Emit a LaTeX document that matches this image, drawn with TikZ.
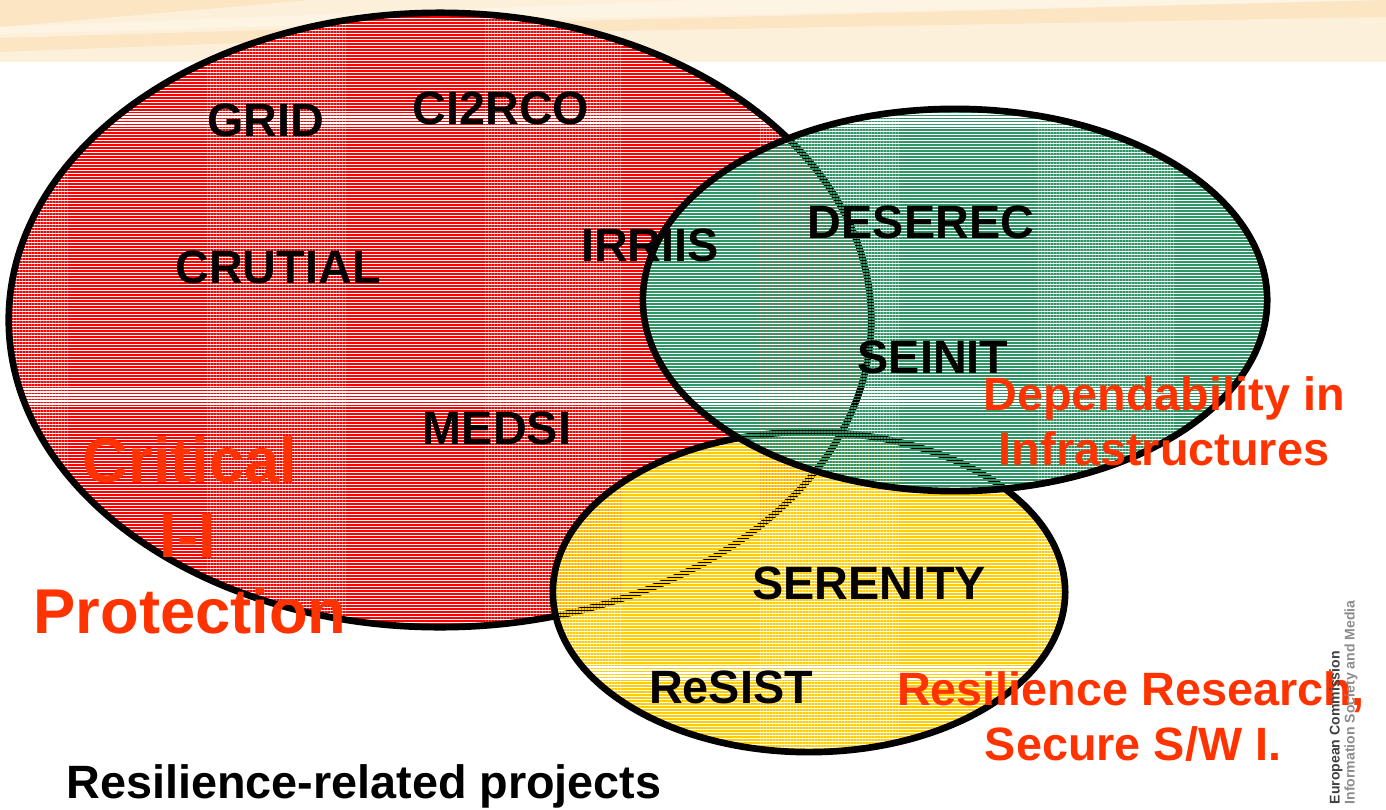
\documentclass[tikz,border=0pt]{standalone}
\usepackage{fontspec}
\setmainfont{Liberation Sans}
\usetikzlibrary{patterns.meta}

\definecolor{stripered}{RGB}{255,0,0}
\definecolor{stripegreen}{RGB}{46,150,100}
\definecolor{stripeyellow}{RGB}{255,204,0}
\definecolor{labelorange}{RGB}{255,51,0}
\definecolor{bannerbase}{RGB}{253,240,219}
\definecolor{bannerdark}{RGB}{251,229,195}
\definecolor{bannerlight}{RGB}{254,244,228}

\begin{document}
\begin{tikzpicture}[x=0.01cm,y=-0.01cm,
  stripes/.style={pattern={Lines[angle=0,distance=0.85pt,line width=0.55pt]},pattern color=#1},
  rim/.style={draw=black,line width=1.9pt},
  proj/.style={font=\fontsize{13.3}{16}\selectfont\bfseries,inner sep=0pt},
  area/.style={font=\fontsize{#1}{20}\selectfont\bfseries,text=labelorange,inner sep=0pt},
  area/.default=13.3,
  logo/.style={rotate=90,anchor=west,inner sep=0pt,font=\fontsize{4}{5}\selectfont\bfseries}]
\useasboundingbox (0,0) rectangle (1386,809);

% banner along the top
\fill[bannerbase] (0,0) rectangle (1386,62);
\fill[bannerdark] (0,0) -- (310,0) -- (0,27) -- cycle;
\fill[bannerlight] (0,34) -- (500,20) -- (1386,0) -- (700,0) -- (0,27) -- cycle;
\fill[bannerdark] (0,38) -- (500,23) -- (1386,0) -- (1386,17) -- (500,33) -- (0,52) -- cycle;

% the three project areas
\fill[white] (440,320) ellipse [x radius=4.31cm,y radius=3.07cm];
\path[stripes=stripered] (440,320) ellipse [x radius=4.31cm,y radius=3.07cm];
\draw[rim] (440,320) ellipse [x radius=4.31cm,y radius=3.07cm];

\path[stripes=stripeyellow] (809,592) ellipse [x radius=2.56cm,y radius=1.60cm];
\draw[rim] (809,592) ellipse [x radius=2.56cm,y radius=1.60cm];

\path[stripes=stripegreen] (955,300) ellipse [x radius=3.12cm,y radius=1.91cm];
\draw[rim] (955,300) ellipse [x radius=3.12cm,y radius=1.91cm];

% projects
\node[proj] (grid) at (266,120) {GRID};
\node[proj] (ci2rco) at (501,108) {CI2RCO};
\node[proj] (crutial) at (278,267) {CRUTIAL};
\node[proj] (irriis) at (650,245) {IRRIIS};
\node[proj] (deserec) at (921,222) {DESEREC};
\node[proj] (seinit) at (933,357) {SEINIT};
\node[proj] (medsi) at (497,428) {MEDSI};
\node[proj] (serenity) at (869,583) {SERENITY};
\node[proj] (resist) at (731,687) {ReSIST};

% area titles
\node[area=18,anchor=base] (critical) at (190,482) {Critical};
\node[area=18] (ii) at (188,536) {I-I};
\node[area=18,anchor=base] (protection) at (190,633) {Protection};
\node[area,anchor=base] (dependability) at (1164,410) {Dependability in};
\node[area,anchor=base] (infra) at (1164,465) {Infrastructures};
\node[area,anchor=base] (resilience) at (1131,705) {Resilience Research,};
\node[area,anchor=base] (secure) at (1133,760) {Secure S/W I.};

\node[proj,anchor=base] (caption) at (364,798) {Resilience-related projects};

% logo strip
\node[logo,text=black!75] (ec) at (1336,805) {European Commission};
\node[logo,text=black!45] (infso) at (1351,805) {Information Society and Media};
\end{tikzpicture}
\end{document}
